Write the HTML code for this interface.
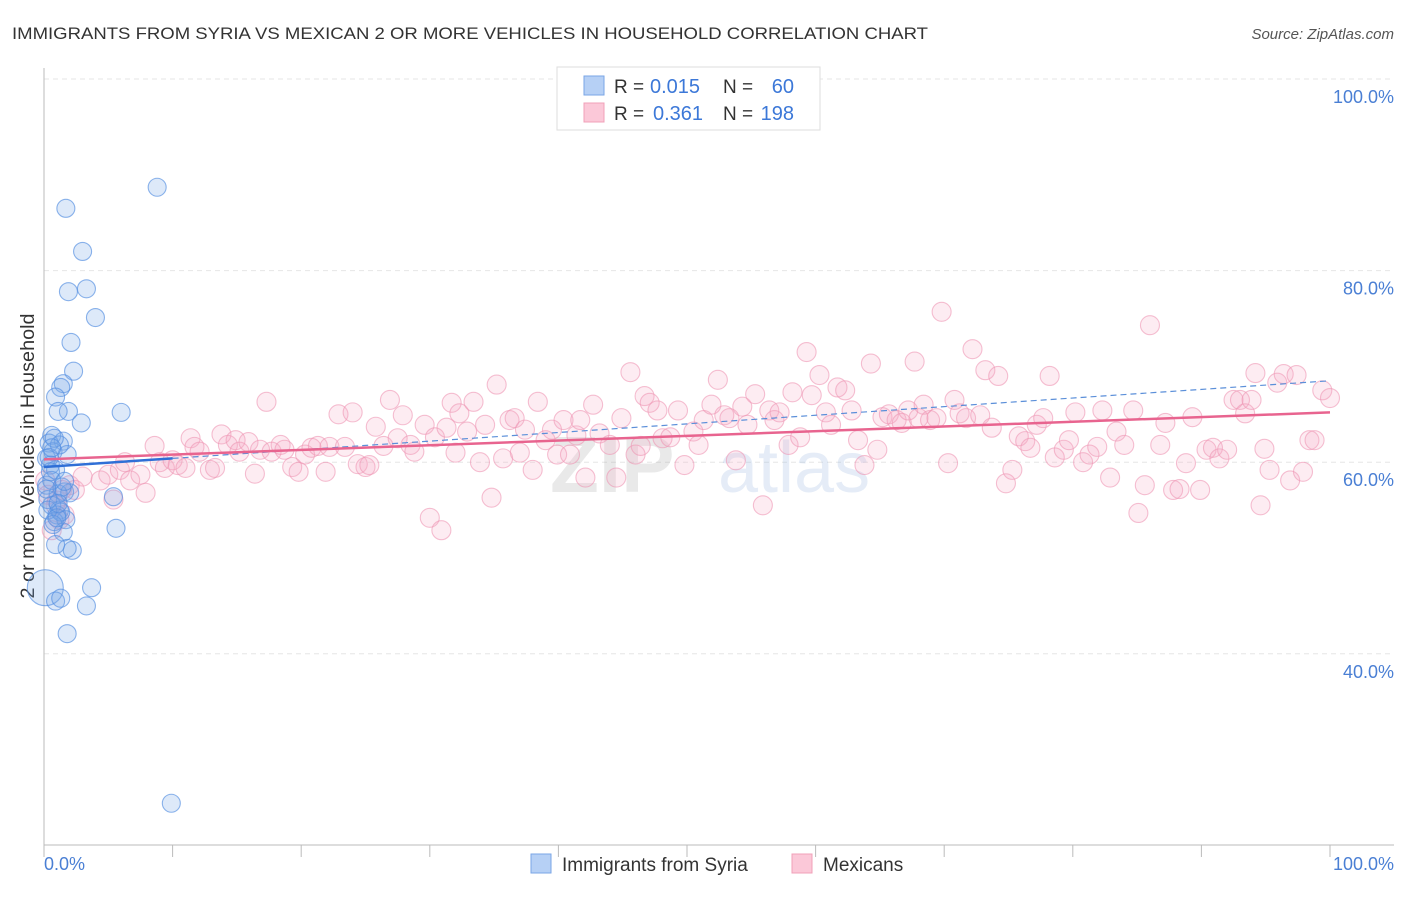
<!DOCTYPE html>
<html><head><meta charset="utf-8"><style>
body{margin:0;background:#fff;font-family:"Liberation Sans",sans-serif;}
svg text{font-family:"Liberation Sans",sans-serif;}
</style></head><body>
<svg id="chart" width="1406" height="892" viewBox="0 0 1406 892" xmlns="http://www.w3.org/2000/svg">
<text x="12" y="39" font-size="17" fill="#333" textLength="916" lengthAdjust="spacingAndGlyphs">IMMIGRANTS FROM SYRIA VS MEXICAN 2 OR MORE VEHICLES IN HOUSEHOLD CORRELATION CHART</text>
<text x="1394" y="39" font-size="15" fill="#555" text-anchor="end" font-style="italic">Source: ZipAtlas.com</text>
<g id="grid"></g>
<g opacity="0.25"><text x="550" y="492" font-size="80" font-weight="bold" fill="#aaa">ZIP</text><text x="718" y="492" font-size="72" fill="#9bb8e0">atlas</text></g>
<line x1="44" y1="68" x2="44" y2="845" stroke="#bbb"/>
<line x1="44" y1="845" x2="1394" y2="845" stroke="#bbb"/>
<text transform="translate(34,456) rotate(-90)" font-size="19" fill="#333" text-anchor="middle" textLength="285" lengthAdjust="spacingAndGlyphs">2 or more Vehicles in Household</text>
<text x="44" y="870" font-size="18" fill="#4a7fd4">0.0%</text>
<text x="1394" y="870" font-size="18" fill="#4a7fd4" text-anchor="end">100.0%</text>
<g id="pts"></g>
<g id="trends"></g>
<g>
<rect x="557" y="67" width="263" height="63" fill="#fff" stroke="#ddd"/>
<rect x="584" y="76" width="20" height="19" fill="#b6d0f5" stroke="#7aa6e6"/>
<rect x="584" y="103" width="20" height="19" fill="#fbc8d8" stroke="#f0a0b8"/>
<text x="614" y="93" font-size="19" fill="#333">R =</text>
<text x="650" y="93" font-size="20" fill="#3c78d8">0.015</text>
<text x="723" y="93" font-size="19" fill="#333">N =</text>
<text x="794" y="93" font-size="20" fill="#3c78d8" text-anchor="end">60</text>
<text x="614" y="120" font-size="19" fill="#333">R =</text>
<text x="653" y="120" font-size="20" fill="#3c78d8">0.361</text>
<text x="723" y="120" font-size="19" fill="#333">N =</text>
<text x="794" y="120" font-size="20" fill="#3c78d8" text-anchor="end">198</text>
</g>
<g><rect x="531" y="854" width="20" height="19" fill="#b6d0f5" stroke="#7aa6e6"/><text x="562" y="871" font-size="19" fill="#333">Immigrants from Syria</text></g>
<g><rect x="792" y="854" width="20" height="19" fill="#fbc8d8" stroke="#f0a0b8"/><text x="823" y="871" font-size="19" fill="#333">Mexicans</text></g>
</svg>
<script>
const yTicks=[100,80,60,40];
const yTickLabels=["100.0%","80.0%","60.0%","40.0%"];
const blueX=[8.8,1.7,3.0,1.9,3.3,4.0,2.1,2.3,1.5,1.3,0.9,1.9,1.1,2.9,6.0,0.6,1.5,0.4,0.7,1.8,0.2,0.5,0.9,1.6,1.1,0.2,0.6,1.2,1.0,1.7,0.8,1.5,2.2,1.8,0.9,5.6,5.4,0.1,0.9,1.3,3.7,3.3,1.8,9.9,0.3,0.6,1.3,2.0,0.4,1.2,0.8,1.4,0.3,0.7,1.0,1.6,0.5,1.1,0.2,0.6];
const blueY=[88.7,86.5,82.0,77.8,78.1,75.1,72.5,69.5,68.2,67.8,66.8,65.3,65.3,64.1,65.2,62.8,62.2,62.0,61.1,60.8,60.4,59.7,59.2,56.9,56.7,57.6,55.5,55.0,54.5,54.0,53.8,52.7,50.8,51.0,51.4,53.1,56.4,46.9,45.5,45.8,46.9,45.0,42.1,24.4,56.1,58.1,54.8,56.8,60.5,61.8,62.5,57.4,55.0,53.5,54.2,58.0,59.0,55.7,57.2,61.5];
const pinkX=[0.1,0.3,0.9,1.4,2.0,2.4,1.2,1.6,0.6,4.4,5.0,5.4,5.9,6.3,6.7,7.5,7.9,8.6,9.0,9.4,10.0,10.4,11.0,11.4,11.7,12.1,12.9,13.3,13.8,14.3,14.9,15.2,15.9,16.4,16.8,17.3,17.7,18.4,18.7,19.3,19.8,20.3,20.8,21.3,21.9,22.2,22.9,23.4,24.0,24.4,25.0,25.3,25.8,26.4,26.9,27.5,27.9,28.5,28.8,29.6,30.0,30.4,30.9,31.3,31.7,32.0,32.3,32.9,33.4,33.9,34.3,34.8,35.2,35.7,36.2,36.6,37.0,37.4,38.0,38.4,39.0,39.5,39.9,40.4,40.9,41.4,41.7,42.1,42.7,43.2,44.0,44.5,44.9,45.6,46.0,46.4,46.7,47.1,47.7,48.1,48.7,49.3,49.8,50.5,50.9,51.3,51.9,52.4,52.9,53.3,53.8,54.3,54.7,55.3,55.9,56.4,56.8,57.2,57.9,58.2,58.8,59.3,59.7,60.3,60.8,61.2,61.7,62.3,62.8,63.3,63.8,64.3,64.8,65.2,65.7,66.3,66.7,67.2,67.7,68.0,68.4,68.9,69.4,69.8,70.3,70.8,71.2,71.7,72.2,72.8,73.2,73.7,74.2,74.8,75.3,75.8,76.3,76.7,77.2,77.7,78.2,78.6,79.3,79.7,80.2,80.8,81.3,81.9,82.3,82.9,83.4,84.0,84.7,85.1,85.6,86.0,86.8,87.2,87.8,88.3,88.8,89.3,89.9,90.4,90.9,91.4,92.0,92.5,93.0,93.4,93.9,94.6,94.9,95.3,95.9,96.4,96.9,97.4,97.9,98.4,98.8,99.4,100.0,94.2,1.0,3.0];
const pinkY=[58.1,56.6,55.5,57.1,57.6,57.1,54.0,54.5,52.9,58.1,58.7,56.1,59.2,60.0,58.1,58.7,56.8,61.7,60.0,59.4,60.2,59.7,59.4,62.5,61.6,61.1,59.2,59.4,62.9,61.8,62.3,61.1,62.1,58.8,61.3,66.3,61.1,61.8,61.3,59.5,59.0,60.8,61.5,61.7,59.0,61.6,65.0,61.6,65.2,59.8,59.5,59.7,63.7,61.7,66.5,62.5,64.9,61.8,61.1,63.9,54.2,62.6,52.9,63.6,66.2,61.0,65.1,63.2,66.3,60.0,63.9,56.3,68.1,60.4,64.4,64.6,61.0,63.4,59.2,66.3,62.3,63.4,60.8,64.4,60.8,62.8,64.4,58.4,66.0,63.0,61.8,58.4,64.6,69.4,60.8,61.7,66.9,66.2,65.4,62.5,62.6,65.4,59.7,63.2,61.8,64.4,66.0,68.6,64.9,64.6,60.2,65.8,63.9,67.1,55.5,65.4,64.4,65.2,61.8,67.3,62.6,71.5,67.0,69.1,65.2,63.9,67.8,67.5,65.4,62.3,59.7,70.3,61.3,64.7,65.0,64.4,64.1,65.4,70.5,64.6,66.0,64.4,64.6,75.7,59.9,66.5,65.1,64.6,71.8,64.9,69.6,63.6,69.0,57.8,59.2,62.7,62.2,61.5,63.9,64.6,69.0,60.5,61.3,62.3,65.2,60.0,60.8,61.6,65.4,58.4,63.2,61.8,65.4,54.7,57.6,74.3,61.8,64.1,57.1,57.2,59.9,64.7,57.1,61.3,61.5,60.4,61.3,66.5,66.5,65.1,66.5,55.5,61.4,59.2,68.3,69.2,58.1,69.1,59.0,62.3,62.3,67.5,66.7,69.3,56.0,58.5];
const trendBlue=[59.5,68.5];
const trendPink=[60.3,65.2];
const X0=44,X1=1330,YTOP=79,PXPER=9.58;
const sx=v=>X0+v/100*(X1-X0);
const sy=v=>YTOP+(100-v)*PXPER;
const NS="http://www.w3.org/2000/svg";
const mk=(t,a)=>{const e=document.createElementNS(NS,t);for(const k in a)e.setAttribute(k,a[k]);return e;};
const grid=document.getElementById('grid');
yTicks.forEach((t,i)=>{
  const l=mk('line',{x1:44,x2:1394,y1:sy(t),y2:sy(t),stroke:'#e6e6e6','stroke-dasharray':'5,4'});
  
  
  grid.appendChild(l);
  const tx=mk('text',{x:1394,y:sy(t)+24,'font-size':18,fill:'#4a7fd4','text-anchor':'end'});
  tx.textContent=yTickLabels[i];
  
  
  grid.appendChild(tx);
});
for(let k=0;k<=10;k++){
  const l=mk('line',{x1:sx(k*10),x2:sx(k*10),y1:845,y2:857,stroke:'#bbb'});
  
  
  grid.appendChild(l);
}
const pts=document.getElementById('pts');
pinkX.forEach((x,i)=>{
  const c=mk('circle',{cx:sx(x),cy:sy(pinkY[i]),r:9.5,fill:'rgba(246,170,195,0.22)',stroke:'rgba(238,150,180,0.6)','stroke-width':1.1});
  
  
  pts.appendChild(c);
});
blueX.forEach((x,i)=>{
  const c=mk('circle',{cx:sx(x),cy:sy(blueY[i]),r:(i===37?18:9),fill:'rgba(120,168,232,0.25)',stroke:'rgba(80,140,225,0.65)','stroke-width':1.1});
  
  
  pts.appendChild(c);
});
const tr=document.getElementById('trends');
const bd=mk('line',{x1:sx(10),y1:sy(trendBlue[0]+(trendBlue[1]-trendBlue[0])*0.1),x2:sx(100),y2:sy(trendBlue[1]),stroke:'#5b8fd9','stroke-width':1.2,'stroke-dasharray':'6,4'});


tr.appendChild(bd);
const bs=mk('line',{x1:sx(0),y1:sy(trendBlue[0]),x2:sx(10),y2:sy(trendBlue[0]+(trendBlue[1]-trendBlue[0])*0.1),stroke:'#2f6fd6','stroke-width':2.5});


tr.appendChild(bs);
const pl=mk('line',{x1:sx(0),y1:sy(trendPink[0]),x2:sx(100),y2:sy(trendPink[1]),stroke:'#e8648f','stroke-width':2.5});


tr.appendChild(pl);
</script>
</body></html>
